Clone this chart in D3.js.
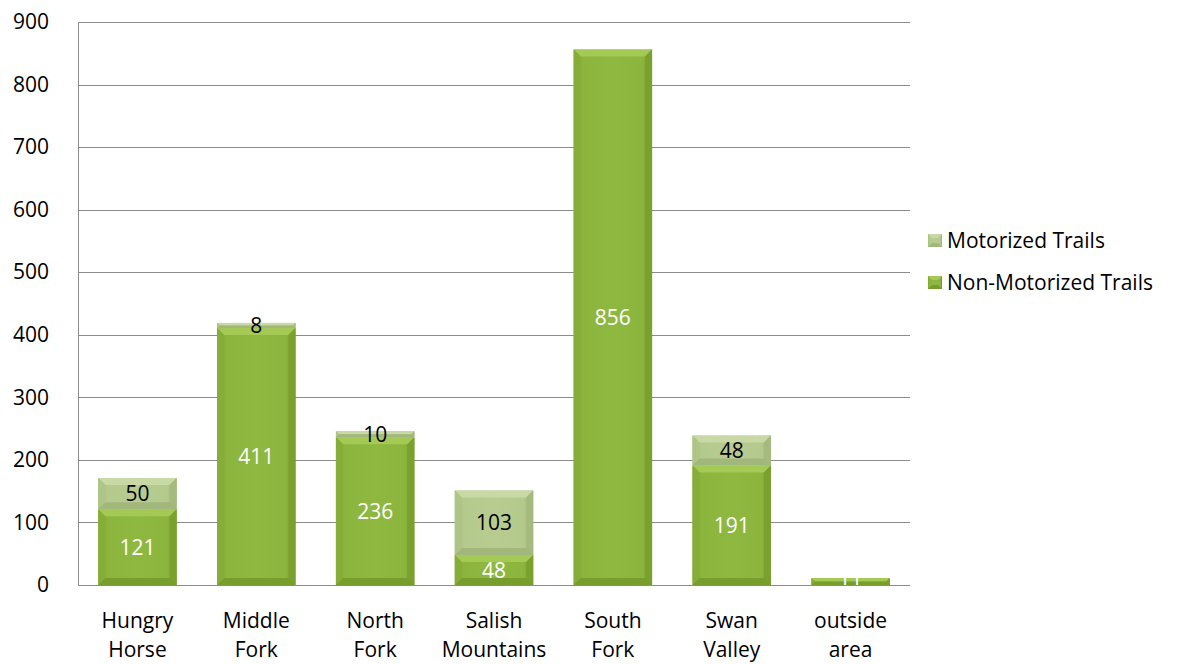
<!DOCTYPE html>
<html>
<head>
<meta charset="utf-8">
<script src="https://cdn.jsdelivr.net/npm/d3@7"></script>
<style>
  body { margin: 0; background: #fff; }
  svg text { font-family: "Open Sans", "Liberation Sans", sans-serif; }
</style>
</head>
<body>
<svg id="chart"></svg>
<script>
const categories = ['Hungry Horse', 'Middle Fork', 'North Fork', 'Salish Mountains', 'South Fork', 'Swan Valley', 'outside area']
const nonMotorized = [121, 411, 236, 48, 856, 191, 11]
const motorized = [50, 8, 10, 103, 0, 48, 0]
const yTicks = [0, 100, 200, 300, 400, 500, 600, 700, 800, 900]
const seriesNames = ['Motorized Trails', 'Non-Motorized Trails']

const width = 1179, height = 664
const margin = {top: 22, right: 269, bottom: 79, left: 78}
const innerW = width - margin.left - margin.right
const innerH = height - margin.top - margin.bottom
const fs = 21

const svg = d3.select('#chart').attr('width', width).attr('height', height)
const defs = svg.append('defs')

function grad(id, stops) {
    const g = defs.append('linearGradient').attr('id', id)
        .attr('x1', 0).attr('y1', 0).attr('x2', 1).attr('y2', 0)
    stops.forEach(s => g.append('stop').attr('offset', s[0]).attr('stop-color', s[1]))
}
grad('g-non', [[0, '#7fa62f'], [0.12, '#8cb53d'], [0.5, '#8fb840'], [0.88, '#8cb53d'], [1, '#6f9427']])
grad('g-mot', [[0, '#a8bd80'], [0.12, '#b4c98c'], [0.5, '#b8cc91'], [0.88, '#b4c98c'], [1, '#9cb273']])

const colors = {
    non: {fill: 'url(#g-non)', top: '#a4ca55', bottom: '#779d2c', left: '#86ad38', right: '#7aa02e'},
    mot: {fill: 'url(#g-mot)', top: '#c9d9a6', bottom: '#a2b77c', left: '#afc487', right: '#a5ba7e'}
}

const chart = svg.append('g').attr('transform', `translate(${margin.left},${margin.top})`)

const x = d3.scaleBand().domain(categories).range([0, innerW]).paddingInner(0.34).paddingOuter(0.17)
const y = d3.scaleLinear().domain([0, 900]).range([innerH, 0])

// grid
chart.append('g').selectAll('line').data(yTicks).join('line')
    .attr('x1', 0).attr('x2', innerW)
    .attr('y1', d => Math.round(y(d)) + 0.5).attr('y2', d => Math.round(y(d)) + 0.5)
    .attr('stroke', '#8c8c8c').attr('stroke-width', 1)

const yAxis = d3.axisLeft(y).tickValues(yTicks).tickSize(0).tickPadding(29)
chart.append('g').call(yAxis)
    .call(g => g.select('.domain').attr('stroke', '#8c8c8c'))
    .call(g => g.selectAll('text').attr('font-size', fs).attr('fill', '#000')
        .attr('font-family', '"Open Sans", sans-serif'))

// stacked data
const rows = categories.map((c, i) => ({cat: c, non: nonMotorized[i], mot: motorized[i]}))
const segs = []
rows.forEach(r => {
    segs.push({cat: r.cat, y0: 0, y1: r.non, v: r.non, type: 'non'})
    if (r.mot > 0) segs.push({cat: r.cat, y0: r.non, y1: r.non + r.mot, v: r.mot, type: 'mot'})
})

const bars = chart.append('g')
segs.forEach(s => {
    const x0 = x(s.cat), bw = x.bandwidth()
    const top = y(s.y1), bot = y(s.y0)
    const h = bot - top
    const b = Math.min(7, h / 2, bw / 2)
    const c = colors[s.type]
    const g = bars.append('g')
    g.append('rect').attr('x', x0).attr('y', top).attr('width', bw).attr('height', h).attr('fill', c.fill)
    g.append('polygon')
        .attr('points', [[x0, top], [x0 + bw, top], [x0 + bw - b, top + b], [x0 + b, top + b]].join(' '))
        .attr('fill', c.top)
    g.append('polygon')
        .attr('points', [[x0, bot], [x0 + bw, bot], [x0 + bw - b, bot - b], [x0 + b, bot - b]].join(' '))
        .attr('fill', c.bottom)
    g.append('polygon')
        .attr('points', [[x0, top], [x0 + b, top + b], [x0 + b, bot - b], [x0, bot]].join(' '))
        .attr('fill', c.left)
    g.append('polygon')
        .attr('points', [[x0 + bw, top], [x0 + bw - b, top + b], [x0 + bw - b, bot - b], [x0 + bw, bot]].join(' '))
        .attr('fill', c.right)
})

// value labels
chart.append('g').selectAll('text').data(segs).join('text')
    .attr('x', d => x(d.cat) + x.bandwidth() / 2)
    .attr('y', d => y((d.y0 + d.y1) / 2))
    .attr('dy', '0.36em')
    .attr('text-anchor', 'middle')
    .attr('font-size', fs)
    .attr('fill', d => d.type === 'non' ? '#fff' : '#000')
    .text(d => d.v)

// x axis line and labels
chart.append('line').attr('x1', 0).attr('x2', innerW)
    .attr('y1', Math.round(innerH) + 0.5).attr('y2', Math.round(innerH) + 0.5)
    .attr('stroke', '#8c8c8c')

const xl = chart.append('g').selectAll('text').data(categories).join('text')
    .attr('x', d => x(d) + x.bandwidth() / 2)
    .attr('y', innerH + 43)
    .attr('text-anchor', 'middle')
    .attr('font-size', fs)
    .attr('fill', '#000')
xl.each(function(d) {
    const words = d.split(' ')
    d3.select(this).selectAll('tspan').data(words).join('tspan')
        .attr('x', x(d) + x.bandwidth() / 2)
        .attr('dy', (w, i) => i === 0 ? 0 : 29)
        .text(w => w)
})

// legend
const legend = svg.append('g').attr('transform', 'translate(928,240)')
seriesNames.forEach((n, i) => {
    const g = legend.append('g').attr('transform', `translate(0,${i * 42})`)
    const c = colors[n.startsWith('Motor') ? 'mot' : 'non']
    g.append('rect').attr('x', 0).attr('y', -6).attr('width', 14).attr('height', 13).attr('fill', c.fill)
    g.append('polygon').attr('points', '0,-6 14,-6 10,-2 4,-2').attr('fill', c.top)
    g.append('polygon').attr('points', '0,7 14,7 10,3 4,3').attr('fill', c.bottom)
    g.append('text').attr('x', 19).attr('y', 0).attr('dy', '0.36em')
        .attr('font-size', fs).attr('fill', '#000').text(n)
})
</script>
</body>
</html>
